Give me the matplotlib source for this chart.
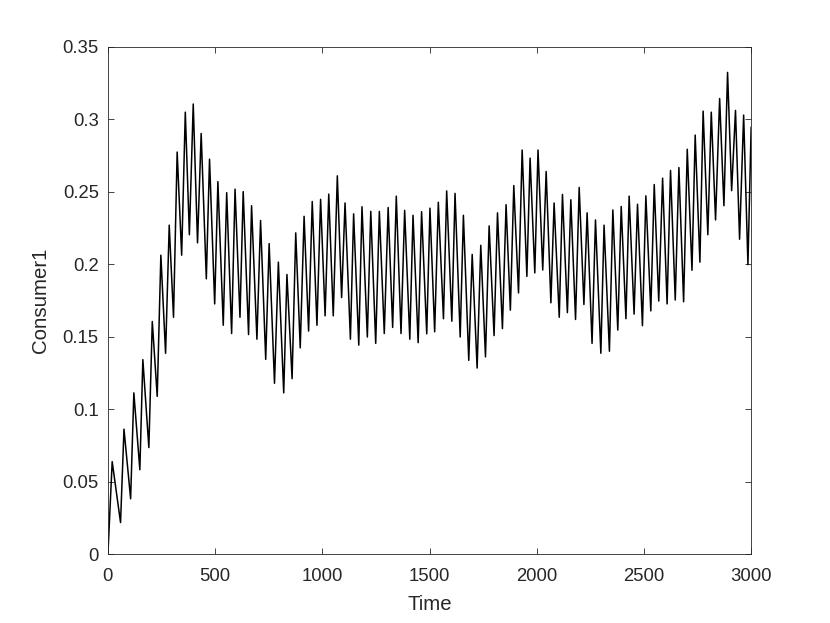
import matplotlib
matplotlib.use("Agg")
import matplotlib.pyplot as plt
from matplotlib.ticker import FuncFormatter

# turning points of the Consumer1 trace
time = [0, 20, 59, 75, 106, 121, 149, 163, 191, 207, 230, 247, 269, 286, 306, 323, 344, 361,
        380, 398, 418, 435, 459, 474, 498, 513, 538, 554, 577, 593, 616, 631, 656, 670,
        695, 712, 736, 752, 777, 795, 820, 835, 859, 876, 897, 915, 936, 953, 975, 992,
        1013, 1030, 1051, 1070, 1090, 1106, 1131, 1146, 1170, 1185, 1210, 1226, 1249, 1266,
        1289, 1307, 1328, 1345, 1367, 1384, 1408, 1423, 1447, 1463, 1487, 1502,
        1524, 1541, 1565, 1580, 1604, 1619, 1643, 1658, 1683, 1699, 1722, 1739, 1761, 1778,
        1801, 1817, 1840, 1857, 1877, 1893, 1915, 1932, 1954, 1969, 1991, 2006, 2028,
        2044, 2066, 2081, 2105, 2120, 2143, 2159, 2181, 2198, 2220, 2235, 2258, 2274,
        2299, 2314, 2339, 2355, 2378, 2394, 2416, 2431, 2454, 2470, 2493, 2509, 2532, 2548,
        2569, 2587, 2608, 2624, 2646, 2663, 2685, 2702, 2724, 2739, 2761, 2776, 2798, 2814,
        2834, 2853, 2873, 2890, 2909, 2927, 2946, 2965, 2985, 3000]
consumer1 = [0.0, 0.064, 0.022, 0.0864, 0.0384, 0.1114, 0.0584, 0.1343, 0.0737, 0.1606, 0.109,
             0.2063, 0.1387, 0.227, 0.1635, 0.2774, 0.2063, 0.3049, 0.2204, 0.3105, 0.2148,
             0.2902, 0.19, 0.2725, 0.1727, 0.257, 0.158, 0.2494, 0.1523, 0.2518, 0.1635,
             0.2501, 0.1516, 0.2404, 0.1484, 0.2302, 0.1345, 0.2143, 0.118, 0.2015, 0.1114,
             0.193, 0.1212, 0.2217, 0.1424, 0.2331, 0.154, 0.2433, 0.158, 0.2448,
             0.1645, 0.2484, 0.1645, 0.261, 0.1771, 0.2423, 0.1484, 0.2348, 0.1443, 0.2397,
             0.1499, 0.2365, 0.1455, 0.2365, 0.1523, 0.2392, 0.1565, 0.247, 0.1523, 0.2372,
             0.1484, 0.2338, 0.146, 0.2363, 0.1521, 0.2387,
             0.1535, 0.2428, 0.1625, 0.2506, 0.1608, 0.2489, 0.1499, 0.2338, 0.1338, 0.2068,
             0.1285, 0.2131, 0.1362, 0.2265, 0.1509, 0.2355, 0.1557, 0.2411, 0.1684, 0.2543,
             0.1803, 0.2788, 0.1917, 0.2732, 0.1941, 0.2788, 0.1961,
             0.264, 0.1735, 0.2423, 0.1635, 0.2482, 0.1667, 0.2445, 0.162, 0.253, 0.1723,
             0.2355, 0.1455, 0.2306, 0.1387, 0.227, 0.1401, 0.2375, 0.1547, 0.2399, 0.1625,
             0.247, 0.1657, 0.2414, 0.1577, 0.2472, 0.1679, 0.255,
             0.1747, 0.2594, 0.1727, 0.2647, 0.1754, 0.2667, 0.1742, 0.2793, 0.1959, 0.2891,
             0.2015, 0.3056, 0.2204, 0.3049, 0.2306, 0.3143, 0.2404, 0.3323, 0.2508, 0.3061,
             0.2173, 0.3029, 0.1998, 0.2944]

xticks = [0, 500, 1000, 1500, 2000, 2500, 3000]
yticks = [0, 0.05, 0.1, 0.15, 0.2, 0.25, 0.3, 0.35]

plt.rcParams['font.family'] = ['Liberation Sans', 'DejaVu Sans']
grey = '#262626'

fig = plt.figure(figsize=(8.3, 6.23), dpi=100)
ax = fig.add_axes([0.13, 0.11, 0.775, 0.815])
ax.plot(time, consumer1, color='black', linewidth=1.1)

ax.set_xlim(0, 3000)
ax.set_ylim(0, 0.35)
ax.set_xticks(xticks)
ax.set_yticks(yticks)
ax.yaxis.set_major_formatter(FuncFormatter(lambda v, p: '%g' % round(v, 2)))
ax.tick_params(direction='in', top=True, right=True, length=4.5, width=0.6,
               colors=grey, labelsize=13.3)
ax.tick_params(axis='x', pad=10)
ax.tick_params(axis='y', pad=6.5)
for s in ax.spines.values():
    s.set_color(grey)
    s.set_linewidth(0.6)

ax.set_xlabel('Time', fontsize=14.7, color=grey, labelpad=7)
ax.set_ylabel('Consumer1', fontsize=14.7, color=grey, labelpad=9)

fig.savefig('out.png', dpi=100)
